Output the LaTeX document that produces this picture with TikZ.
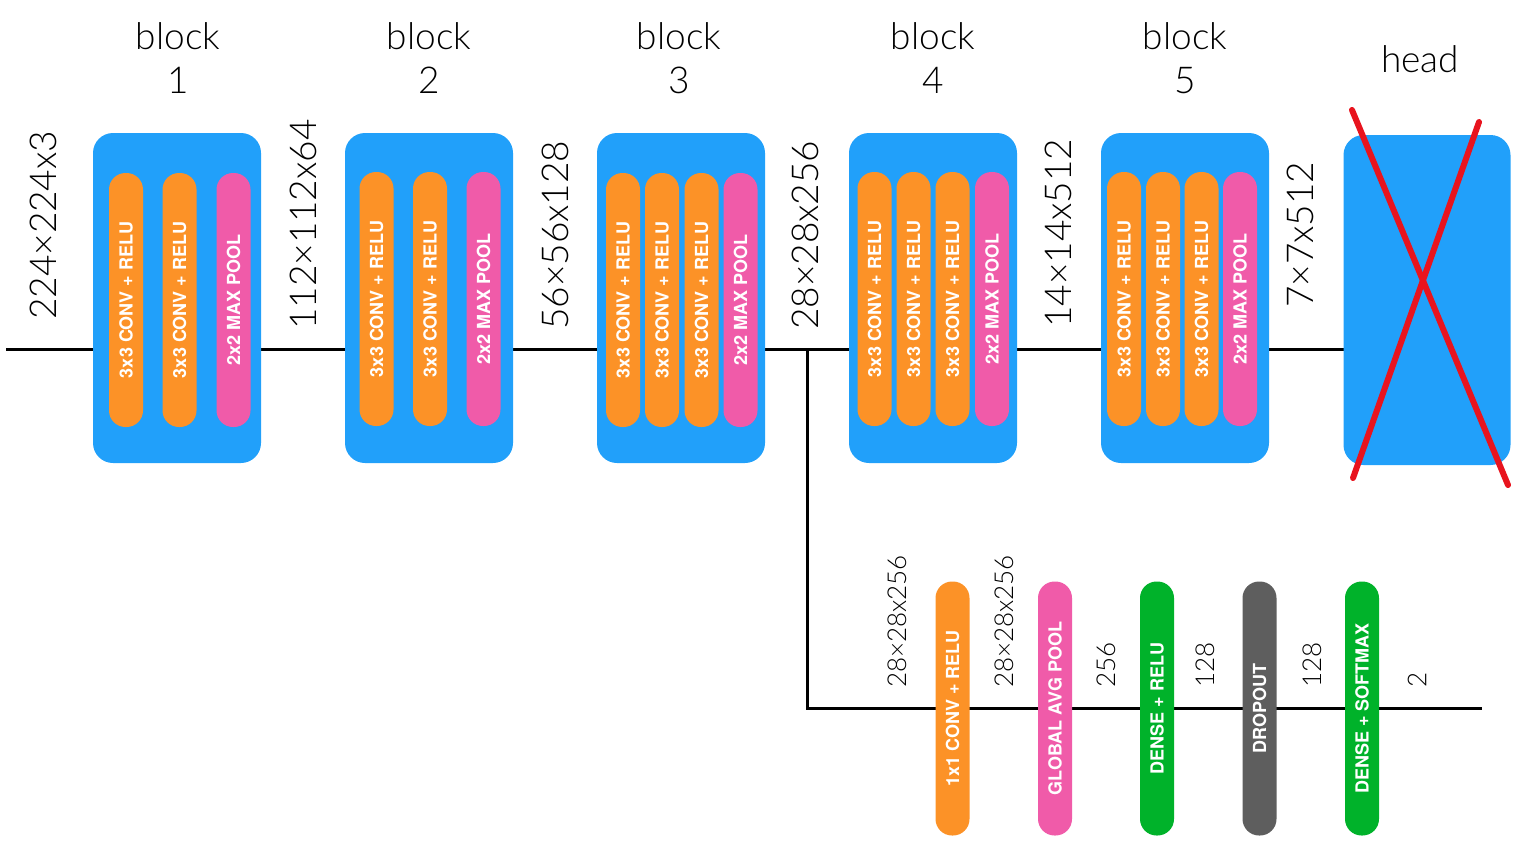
\documentclass[tikz,border=0pt]{standalone}
\usepackage{fontspec}
\setmainfont{TeX Gyre Heros}
\newfontfamily\lightf{Lato}[UprightFont=* Light]
\usetikzlibrary{backgrounds}
\definecolor{boxblue}{HTML}{21A0FA}
\definecolor{convor}{HTML}{FC9227}
\definecolor{poolpk}{HTML}{F05BA9}
\definecolor{densegr}{HTML}{00B22A}
\definecolor{dropgy}{HTML}{5E5E5E}
\definecolor{crossred}{HTML}{E8141E}
\begin{document}
\begin{tikzpicture}[x=1pt,y=-1pt,
  box/.style={fill=boxblue, rounded corners=20, minimum width=168, minimum height=330, inner sep=0, draw=none},
  pill/.style={rotate=90, rounded corners=16.5, minimum width=254, minimum height=34, inner sep=0, text=white, font=\fontsize{18}{20}\selectfont\bfseries},
  conv/.style={pill, fill=convor},
  pool/.style={pill, fill=poolpk},
  dense/.style={pill, fill=densegr},
  drop/.style={pill, fill=dropgy},
  dim/.style={rotate=90, anchor=west, inner sep=0, font=\lightf\fontsize{37}{40}\selectfont},
  sdim/.style={rotate=90, anchor=west, inner sep=0, font=\lightf\fontsize{26}{28}\selectfont},
  title/.style={anchor=base, inner sep=0, font=\lightf\fontsize{37}{40}\selectfont},
  conn/.style={line width=3pt, black},
  xline/.style={line width=6pt, crossred, line cap=round}]
\useasboundingbox (0,0) rectangle (1530,854);

% titles
\node[title] (t1a) at (178,49) {block};
\node[title] (t1b) at (178,93) {1};
\node[title] (t2a) at (429,49) {block};
\node[title] (t2b) at (429,93) {2};
\node[title] (t3a) at (679,49) {block};
\node[title] (t3b) at (679,93) {3};
\node[title] (t4a) at (933,49) {block};
\node[title] (t4b) at (933,93) {4};
\node[title] (t5a) at (1185,49) {block};
\node[title] (t5b) at (1185,93) {5};
\node[title] (th) at (1420,72) {head};

% blocks
\node[box] (B1) at (177,298) {};
\node[box] (B2) at (429,298) {};
\node[box] (B3) at (681,298) {};
\node[box] (B4) at (933,298) {};
\node[box] (B5) at (1185,298) {};
\node[box, minimum width=167] (head) at (1427,300) {};

% block 1
\node[conv] (b1c1) at (126,300) {3x3 CONV + RELU};
\node[conv] (b1c2) at (179.5,300) {3x3 CONV + RELU};
\node[pool] (b1p) at (233.5,300) {2x2 MAX POOL};
% block 2
\node[conv] (b2c1) at (376.5,299) {3x3 CONV + RELU};
\node[conv] (b2c2) at (430,299) {3x3 CONV + RELU};
\node[pool] (b2p) at (483.5,299) {2x2 MAX POOL};
% block 3
\node[conv] (b3c1) at (623,300) {3x3 CONV + RELU};
\node[conv] (b3c2) at (662,300) {3x3 CONV + RELU};
\node[conv] (b3c3) at (701.5,300) {3x3 CONV + RELU};
\node[pool] (b3p) at (740.5,300) {2x2 MAX POOL};
% block 4
\node[conv] (b4c1) at (874.5,299) {3x3 CONV + RELU};
\node[conv] (b4c2) at (913.5,299) {3x3 CONV + RELU};
\node[conv] (b4c3) at (952.5,299) {3x3 CONV + RELU};
\node[pool] (b4p) at (992,299) {2x2 MAX POOL};
% block 5
\node[conv] (b5c1) at (1124,299) {3x3 CONV + RELU};
\node[conv] (b5c2) at (1163,299) {3x3 CONV + RELU};
\node[conv] (b5c3) at (1201.5,299) {3x3 CONV + RELU};
\node[pool] (b5p) at (1240,299) {2x2 MAX POOL};

% dimension labels
\node[dim] (d0) at (43,320) {224×224x3};
\node[dim] (d1) at (303,330) {112×112x64};
\node[dim] (d2) at (555,330) {56×56x128};
\node[dim] (d3) at (805,330) {28×28x256};
\node[dim] (d4) at (1058,328) {14×14x512};
\node[dim] (d5) at (1300,308) {7×7x512};

% branch
\node[conv] (p1) at (952.5,708.5) {1x1 CONV + RELU};
\node[pool] (p2) at (1055,708.5) {GLOBAL AVG POOL};
\node[dense] (p3) at (1157,708.5) {DENSE + RELU};
\node[drop] (p4) at (1259.5,708.5) {DROPOUT};
\node[dense] (p5) at (1362,708.5) {DENSE + SOFTMAX};

\node[sdim] (s1) at (897,688) {28×28x256};
\node[sdim] (s2) at (1004,688) {28×28x256};
\node[sdim] (s3) at (1106,688) {256};
\node[sdim] (s4) at (1205,688) {128};
\node[sdim] (s5) at (1312,688) {128};
\node[sdim] (s6) at (1417,688) {2};

% connectors
\coordinate (in) at (6,349);
\coordinate (j) at (807,349);
\coordinate (out) at (1482,708);
\begin{scope}[on background layer]
\draw[conn] (in) -- (in -| head.center);
\draw[conn] (j) |- (out);
\end{scope}

% cross over head
\draw[xline] (1352,110) -- (1508,485);
\draw[xline] (1479,122) -- (1353,478);
\end{tikzpicture}
\end{document}
